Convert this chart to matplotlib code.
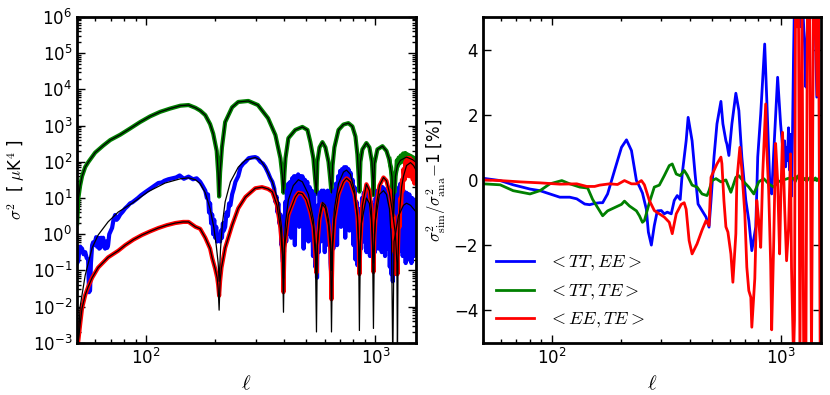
#====================================================================================
#                                  Imports
#------------------------------------------------------------------------------------
import matplotlib
matplotlib.use('Agg')
import matplotlib.pyplot as plt
from matplotlib.ticker import LogLocator, NullFormatter
import numpy as np

#====================================================================================
#                       Data
#------------------------------------------------------------------------------------
# Left panel: variance of the cross spectra (analytic = black, simulated = coloured)

# <TT,TE>  (green), simulation and analytic share the same points
green_ell = [50.0, 50.6, 51.5, 52.5, 54.2, 56.0, 59.9, 64.9, 69.7, 77, 85, 94, 104, 115, 127,
             141, 153, 164, 172, 181, 190, 196, 203, 206, 208, 210, 214, 221, 237, 252, 279,
             307, 340, 366, 385, 392, 397, 401, 405, 417, 447, 480, 505, 520, 536, 547, 553,
             558, 570, 587, 605, 624, 632, 643, 650, 662, 690, 725, 762, 793, 818, 834, 846,
             851, 860, 877, 913, 941, 965, 975, 980, 990, 1020, 1073, 1117, 1151, 1180, 1199,
             1222, 1247, 1285, 1366, 1451, 1510]
green_val = [2.0, 10, 22, 40, 72, 100, 180, 280, 400, 560, 830, 1250, 1800, 2400, 2950,
             3550, 3700, 3100, 2600, 1950, 1100, 600, 200, 50, 11, 50, 250, 1250, 3200, 4500, 4800,
             3700, 1600, 550, 125, 45, 14, 50, 125, 450, 760, 920, 760, 350, 125, 28, 13,
             100, 250, 350, 250, 100, 45, 14, 80, 250, 760, 1070, 1170, 950, 500, 160, 32,
             15, 100, 220, 330, 250, 100, 32, 12, 90, 220, 270, 200, 110, 40, 3,
             40, 80, 110, 135, 115, 95]

# noisy end of the simulated green curve
green_tail_ell = [1151, 1160, 1170, 1180, 1187, 1193, 1199, 1205, 1212, 1222, 1232, 1240, 1250,
                  1262, 1275, 1290, 1305, 1320, 1335, 1350, 1366, 1380, 1395, 1410, 1425, 1440,
                  1455, 1470, 1485, 1500, 1510]
green_tail_val = [120, 80, 70, 30, 8, 0.6, 3, 0.8, 15, 50, 60, 110, 75,
                  130, 90, 150, 100, 170, 110, 175, 120, 160, 100, 150, 95, 140,
                  85, 130, 80, 110, 90]

# <TT,EE>  (blue) analytic
blue_ana_ell = [50.3, 51.5, 54.2, 58.1, 61.7, 68.2, 75.5, 86.9, 102, 121, 141, 153, 164, 172,
                181, 190, 197, 202, 206, 208, 211, 215, 221, 233, 252, 271, 299, 315, 331, 355,
                377, 389, 395, 397, 400, 405, 417, 438, 461, 480, 510, 536, 547, 553, 558, 570,
                587, 605, 624, 637, 643, 650, 662, 690, 725, 748, 778, 810, 834, 851, 868, 913,
                941, 960, 980, 1000, 1041, 1084, 1117, 1151, 1175, 1190, 1205, 1260, 1325, 1366,
                1422, 1510]
blue_ana_val = [6e-4, 0.01, 0.074, 0.42, 0.95, 2.2, 4.1, 7.2, 15, 26, 34, 36, 32, 25,
                14, 5.0, 1.6, 0.5, 0.16, 0.05, 0.4, 2.0, 7.9, 28, 71, 112, 132, 112, 71, 28,
                7.9, 1.6, 0.16, 0.06, 0.4, 2.0, 8.9, 22, 32, 28, 12.6, 2.5, 0.5, 0.06, 0.5, 3.2,
                7.6, 6.3, 2.5, 0.63, 0.1, 0.63, 5.0, 25, 52, 59, 45, 16, 3.2, 0.16, 2.0, 10,
                7.1, 2.5, 0.16, 2.5, 12.6, 16, 12.6, 5.0, 0.63, 3e-4, 0.63, 3.2, 6.3, 7.2,
                6.3, 4.0]

# <TT,EE>  (blue) simulated, very noisy
blue_sim_ell = [50, 50.5, 51, 51.5, 52.5, 53.3, 54.2, 55, 55.8, 56.3, 56.9, 57.4, 58.1, 58.7,
                59.3, 60.5, 61.1, 61.7, 62.4, 63, 63.6, 64.3, 64.9, 65.5, 66.2, 66.9, 67.6, 68.2,
                69, 71, 72, 73.2, 74.3, 75.5, 77, 79, 81, 83, 85, 87, 89.5, 92, 95, 99, 104, 109,
                113, 117, 120, 125, 130, 135, 140, 146, 153, 160, 166, 172, 176, 181, 184, 186,
                188, 190, 192, 194, 196, 198, 200, 202, 204, 206, 208, 210, 212, 214, 216, 218,
                221, 224, 227, 230, 233, 237, 241, 245, 252, 258, 265, 271, 280, 290, 299, 306,
                315, 323, 331, 340, 348, 355,
                362, 366, 370, 374, 377, 381, 385, 389, 391, 393, 395, 397, 399, 402, 405, 408,
                411, 414, 417, 421, 425, 429, 433, 437, 441, 445, 450, 455, 460, 465, 470, 475,
                480, 486, 492, 498, 504, 510, 516, 522, 528, 534, 540, 546, 552, 556, 561, 566,
                571, 577, 583, 589, 595, 601, 607, 613, 619, 625, 631, 637, 643, 649, 655, 661,
                667, 673, 680, 687, 694, 701, 708, 715, 722, 730, 738, 746, 754, 762, 770, 778,
                786, 794, 802, 810, 818, 826, 834, 842, 850, 858, 866, 874, 882, 890, 898, 906,
                914, 922, 930, 938, 946, 954, 962, 970, 978, 986, 994, 1002, 1011, 1020, 1029,
                1038, 1047, 1056, 1065, 1074, 1083, 1092, 1101, 1110, 1119, 1128, 1137, 1146,
                1155, 1164, 1173, 1182, 1190, 1198, 1206, 1214, 1222, 1231, 1240, 1249, 1258,
                1267, 1276, 1285, 1295, 1305, 1315, 1325, 1335, 1345, 1355, 1365, 1375, 1385,
                1395, 1405, 1415, 1425, 1435, 1445, 1455, 1465, 1475, 1485, 1495, 1505, 1510]
blue_sim_val = [0.16, 0.18, 0.32, 0.45, 0.4, 0.28, 0.32, 0.22, 0.2, 0.025, 0.028, 0.16, 0.5, 0.6,
                0.5, 0.83, 0.45, 0.8, 0.4, 0.42, 0.8, 0.7, 0.8, 0.45, 0.4, 0.63, 0.42, 0.5,
                1.0, 1.5, 2.5, 3.4, 2.5, 2.8, 3.5, 4.2, 5.2, 6.0, 7.1, 7.6, 8.7, 10, 12, 14.5, 18, 22,
                26, 27, 30, 33, 35, 37, 42, 34, 39, 33, 35, 28, 22, 16, 10, 12.6,
                4.0, 7.1, 2.0, 3.5, 1.0, 2.5, 0.8, 1.6, 0.63, 0.9, 0.7, 0.63, 1.26, 0.8, 2.0, 1.26,
                1.6, 4.0, 3.2, 7.1, 6.3, 12.6, 18, 28, 40, 71, 89, 100, 126, 132, 135, 126,
                100, 89, 71, 50, 35, 28,
                18, 7.9, 11, 4.0, 7.1, 2.0, 3.5, 0.5, 2.0, 0.25, 0.17, 1.26, 0.32, 2.5, 7.9, 0.63,
                16, 1.0, 25, 2.0, 28, 0.8, 35, 4.0, 40, 0.5, 40, 5.0, 45, 1.6, 40, 7.9,
                40, 0.4, 32, 3.2, 28, 0.63, 20, 2.0, 16, 0.25, 12.6, 0.126, 4.0, 0.063, 6.3, 0.32,
                14, 0.63, 16, 1.0, 16, 0.32, 14, 1.6, 16, 0.5, 12.6, 0.16, 0.063, 6.3, 0.4, 16,
                1.26, 25, 0.5, 40, 2.5, 56, 1.6, 63, 4.0, 71, 0.8, 71, 3.2, 63, 1.26, 50,
                4.0, 32, 0.5, 20, 0.2, 7.9, 0.14, 2.5, 0.126, 5.0, 0.4, 10, 0.63, 14, 1.0, 16,
                0.32, 14, 1.26, 11, 0.25, 7.9, 0.63, 5.0, 0.126, 6.3, 0.32, 10, 1.0, 16, 0.4,
                18, 1.6, 20, 0.32, 20, 1.26, 18, 0.25, 16, 2.0, 12.6, 0.4, 7.9,
                0.126, 5.0, 0.079, 3.2, 0.05, 1.6, 0.1, 4.0, 0.25, 7.9, 0.63, 12.6, 0.32,
                20, 0.5, 25, 1.0, 20, 0.25, 16, 0.63, 12.6, 0.16, 14, 0.5, 11,
                0.2, 12.6, 0.63, 10, 0.16, 10, 0.4, 7.9, 0.25, 8.9, 0.5, 6.3, 1.6]

# <EE,TE>  (red) analytic
red_ell = [50.0, 50.5, 51.5, 52.5, 54.2, 55.8, 58.1, 61.7, 68.2, 75.5, 81, 88, 95.8, 104, 112.8,
           123, 134, 145, 153, 164, 172, 181, 190, 194, 200, 204, 206, 208, 210, 213, 221, 237,
           252, 271, 299, 320, 340, 355, 372, 385, 393, 397, 401, 417, 447, 461, 480, 500, 520,
           536, 547, 553, 558, 570, 587, 605, 624, 637, 643, 650, 662, 690, 725, 748, 778, 810,
           834, 844, 851, 860, 877, 913, 941, 960, 970, 980, 990, 1010, 1041, 1084, 1117, 1151,
           1187, 1222, 1240, 1247, 1255, 1270, 1300, 1325, 1366, 1422, 1466, 1510]
red_ana = [5e-4, 1.05e-3, 3.2e-3, 9.1e-3, 0.021, 0.035, 0.063, 0.12, 0.23, 0.35, 0.5, 0.71, 0.95,
           1.2, 1.48, 1.78, 2.04, 2.19, 2.19, 1.6, 1.41, 0.8, 0.4, 0.22, 0.11, 0.063, 0.032,
           0.008, 0.05, 0.12, 0.42, 1.78, 5.2, 10.7, 18.6, 20, 17.8, 14.8, 6.3, 1.48, 0.27,
           0.007, 0.42, 3.4, 10.7, 14, 13.2, 8.9, 4.0, 1.6, 0.25, 0.002, 0.5, 2.5, 6.8, 5.2,
           1.78, 0.32, 0.002, 0.4, 2.5, 12.6, 28, 35, 28, 12.6, 3.2, 0.63, 0.0022, 0.63, 6.3,
           24, 16, 5.0, 1.0, 0.0025, 1.0, 6.3, 22, 37, 30, 14, 4.0, 1.0, 0.16, 3e-4, 0.25, 3.2,
           20, 40, 79, 95, 79, 56]

# <EE,TE>  (red) simulated
red_sim_ell = [50.0, 50.5, 51.5, 52.5, 54.2, 55.8, 58.1, 61.7, 68.2, 75.5, 81, 88, 95.8, 104,
               112.8, 123, 134, 145, 153, 164, 172, 181, 190, 194, 200, 204, 206, 208, 210, 213,
               221, 237, 252, 271, 299, 320, 340, 355, 372, 385, 393, 397, 401, 417, 447, 461,
               480, 500, 520, 536, 547, 553, 558, 570, 587, 605, 624, 637, 643, 650, 662, 690,
               725, 748, 778, 810, 834, 844, 851, 860, 877, 913, 941, 960, 970, 980, 990, 1010,
               1041, 1084, 1117, 1151, 1160, 1170, 1180, 1190, 1200, 1210, 1220, 1230, 1240,
               1247, 1255, 1265, 1275, 1285, 1295, 1305, 1315, 1325, 1340, 1350, 1360, 1370,
               1380, 1392, 1405, 1418, 1430, 1442, 1455, 1468, 1480, 1495, 1510]
red_sim = [5e-4, 1.05e-3, 3.2e-3, 9.1e-3, 0.021, 0.035, 0.063, 0.12, 0.23, 0.35, 0.5, 0.71, 0.95,
           1.2, 1.48, 1.78, 2.04, 2.19, 2.19, 1.6, 1.41, 0.8, 0.4, 0.22, 0.11, 0.063, 0.04,
           0.02, 0.05, 0.12, 0.42, 1.78, 5.2, 10.7, 18.6, 20, 17.8, 14.8, 6.3, 1.48, 0.27,
           0.025, 0.42, 3.4, 10.7, 14, 13.2, 8.9, 4.0, 1.6, 0.25, 0.085, 0.5, 2.5, 6.8, 5.2,
           1.78, 0.32, 0.016, 0.4, 2.5, 12.6, 28, 35, 28, 12.6, 3.2, 0.63, 0.079, 0.63, 6.3,
           24, 16, 5.0, 1.0, 0.09, 1.0, 6.3, 22, 37, 30, 14, 16, 4.0, 10, 1.6, 3.2, 0.32,
           0.63, 0.079, 0.25, 0.079, 0.5, 3.2, 1.6, 10, 6.3, 32, 16, 63, 32, 100, 40, 126,
           50, 126, 40, 126, 40, 112, 32, 100, 25, 79, 32]

#------------------------------------------------------------------------------------
# Right panel: sigma^2_sim / sigma^2_ana - 1  [%]
rb_ell = [50.1, 59.4, 67.7, 80.2, 88.7, 98, 108.3, 119.7, 128.4, 139.2, 146.3, 153.8, 161.7,
          166.7, 175.2, 187.9, 201.5, 211.9, 222.8, 234.2, 241.4, 248.8, 258.8, 264.1, 272.2,
          280.4, 289, 300.9, 310, 319.4, 332.6, 342.7, 353.2, 363.9, 371.3, 386.4, 394.2, 410.2,
          422.7, 435.6, 453.4, 472, 486.4, 496.3, 511.4, 526.9, 548.3, 559.4, 576.6, 582.4,
          594.2, 612.4, 637.3, 656.9, 677, 704.6, 726.2, 748.4, 779.1, 794.3, 818.5, 852, 869.3,
          895.9, 914.1, 932.4, 970.5, 1000, 1030, 1041, 1052, 1062, 1072, 1083, 1094, 1105,
          1116, 1128, 1139, 1150, 1174, 1197, 1222, 1246, 1272, 1290, 1305, 1324, 1370, 1392,
          1410, 1440, 1470, 1500]
rb_val = [0.05, -0.02, -0.15, -0.28, -0.33, -0.43, -0.53, -0.53, -0.58, -0.74, -0.76, -0.72, -0.7,
          -0.7, -0.43, 0.29, 1.0, 1.23, 0.9, -0.02, -0.2, -0.4, -0.9, -1.6, -2.0,
          -1.4, -0.95, -0.94, -1.04, -0.99, -1.04, -0.63, -0.48, -0.6, 0.18, 1.2, 1.92, 1.2,
          0.18, -0.74, -0.94, -1.14, -1.45, -0.63, 0.7, 1.72, 2.41, 1.72, 1.2, 1.1,
          0.75, 1.72, 2.66, 2.13, 0.7, -0.63, -1.25, -2.17, -1.44, 0.7, 2.02, 4.17, 2.54,
          -0.02, -0.43, 0.8, 3.15, 1.72, 0.7, 1.2, 0.4, 1.0, 0.6, 1.6, 0.3, 1.4,
          -0.5, 1.5, 3.8, 5.5, 5.5, 5.3, 4.7, 5.5, 4.2, 2.85, 4.3, 5.5, 5.5, 4.85,
          5.5, 2.54, 5.5, 5.5]

rg_ell = [50.1, 59.4, 67.7, 80.2, 88.7, 98, 110.5, 119.7, 132.4, 143.4, 150.7, 156.9, 166.7,
          175.2, 187.9, 201.5, 207.6, 218.3, 234.2, 241.4, 248.8, 253.8, 266.7, 280.4, 294.9,
          310, 326, 335.9, 349.7, 363.9, 378.8, 390.3, 410.2, 431.3, 453.4, 476.7, 486.4, 501.2,
          521.8, 548.3, 576.6, 606.2, 637.3, 656.9, 690.7, 726.2, 763.6, 802.3, 843.6, 887,
          932.4, 980.2, 1030, 1083, 1139, 1160, 1180, 1197, 1210, 1230, 1259, 1280, 1300, 1324,
          1350, 1370, 1392, 1420, 1440, 1463, 1500]
rg_val = [-0.12, -0.15, -0.33, -0.43, -0.33, -0.12, -0.02, -0.12, -0.22, -0.25, -0.6, -0.8, -1.1,
          -0.95, -0.85, -0.75, -0.65, -0.8, -0.95, -1.1, -1.3, -1.25, -0.7, -0.22, -0.16,
          0.13, 0.44, 0.49, 0.18, 0.13, 0.29, 0.15, -0.16, -0.22, -0.43, -0.48, -0.33, -0.02,
          0.04, -0.06, 0.0, -0.38, 0.08, 0.13, -0.06, -0.22, -0.43, -0.06, 0.04, -0.12,
          -0.22, -0.05, 0.0, 0.05, 0.05, -0.05, 0.1, 0.13, -0.02, 0.12, 0.0, 0.05, -0.04, 0.03,
          0.08, -0.03, 0.0, 0.06, -0.02, 0.04, 0.0]

rr_ell = [50.1, 59.4, 72.6, 88.7, 108.3, 128.4, 142, 153.8, 161.7, 178.7, 193.6, 207.6, 222.8,
          234.2, 246.3, 253.8, 266.7, 280.4, 294.9, 310, 326, 335.9, 349.7, 367.6, 378.8, 386.4,
          398.1, 410.2, 431.3, 453.4, 472, 486.4, 496.3, 511.4, 526.9, 548.3, 553.8, 565.1,
          576.6, 588.3, 606.2, 618.5, 637.3, 643.7, 663.5, 677, 697.6, 711.7, 726.2, 740.9,
          748.4, 771.3, 786.9, 802.3, 818.5, 835.2, 860.6, 869.3, 887, 904.9, 914.1, 932.4,
          951.2, 970.5, 990.1, 1000, 1020, 1041, 1062, 1083, 1105, 1116, 1139, 1150, 1162,
          1180, 1197, 1215, 1240, 1262, 1290, 1310, 1340, 1365, 1392, 1420, 1445, 1465, 1490,
          1500]
rr_val = [0.0, -0.02, -0.06, -0.09, -0.13, -0.12, -0.2, -0.2, -0.16, -0.12, -0.14, -0.02, -0.12,
          -0.12, -0.02, -0.15, -0.63, -0.94, -1.04, -1.14, -1.3, -1.65, -1.04, -0.75, -0.7, -0.9,
          -1.86, -2.27, -1.96, -1.54, -1.25, -1.4, 0.08, 0.29, 0.49, 0.7, 0.5, -0.63,
          -1.44, -1.6, -2.27, -3.14, -1.65, -0.02, 1.0, 0.3, -1.04, -2.68, -3.4, -3.6,
          -4.52, -3.03, -0.63, -1.25, -2.07, 0.18, 2.33, 1.0, -0.33, -2.58, -4.6, -2.0,
          1.12, -0.02, -2.27, -0.8, 1.46, -0.8, -2.48, -1.5, 0.8, -2.68, -5.5, -4.3, 5.5,
          4.7, 5.5, -5.5, 5.5, -5.5, -5.5, 5.5, 5.5, -5.5, 5.5, 5.5, 2.6, 5.5, -5.5,
          -5.5]

legend_labels = [r'$<TT,EE>$', r'$<TT,TE>$', r'$<EE,TE>$']

#====================================================================================
#                                  Figure
#------------------------------------------------------------------------------------
plt.rcParams['mathtext.fontset'] = 'cm'
plt.rcParams['font.size'] = 12

fig = plt.figure(figsize=(8.3, 3.95), dpi=100)
ax1 = fig.add_axes([0.093, 0.132, 0.408, 0.825])
ax2 = fig.add_axes([0.582, 0.132, 0.407, 0.825])

# simulated (thick, coloured)
ax1.plot(green_ell, green_val, color='g', lw=3)
ax1.plot(green_tail_ell, green_tail_val, color='g', lw=3)
ax1.plot(blue_sim_ell, blue_sim_val, color='b', lw=3)
ax1.plot(red_sim_ell, red_sim, color='r', lw=3)
# analytic (thin, black)
ax1.plot(blue_ana_ell, blue_ana_val, color='k', lw=0.9)
ax1.plot(green_ell, green_val, color='k', lw=0.9)
ax1.plot(red_ell, red_ana, color='k', lw=0.9)

ax1.set_xscale('log')
ax1.set_yscale('log')
ax1.set_xlim(50, 1500)
ax1.set_ylim(1e-3, 1e6)
ax1.yaxis.set_major_locator(LogLocator(base=10, numticks=20))
ax1.yaxis.set_minor_locator(LogLocator(base=10, subs=np.arange(2, 10), numticks=20))
ax1.yaxis.set_minor_formatter(NullFormatter())
ax1.set_xlabel(r'$\ell$', fontsize=15)
ax1.set_ylabel(r'$\sigma^2$  [ $\mu$K$^4$ ]', fontsize=12)

# right panel
ax2.plot(rb_ell, rb_val, color='b', lw=2, label=legend_labels[0])
ax2.plot(rg_ell, rg_val, color='g', lw=2, label=legend_labels[1])
ax2.plot(rr_ell, rr_val, color='r', lw=2, label=legend_labels[2])
ax2.set_xscale('log')
ax2.set_xlim(50, 1500)
ax2.set_ylim(-5, 5)
ax2.set_yticks([-4, -2, 0, 2, 4])
ax2.set_xlabel(r'$\ell$', fontsize=15)
ax2.set_ylabel(r'$\sigma^2_{\rm sim}/\sigma^2_{\rm ana}$$-$1 [%]', fontsize=12)
ax2.legend(loc='lower left', frameon=False, fontsize=13, handlelength=2.1, borderaxespad=0.3)

for ax in (ax1, ax2):
    ax.tick_params(which='both', direction='in', top=True, right=True, labelsize=12)
    ax.tick_params(which='major', length=6, width=1)
    ax.tick_params(which='minor', length=3, width=1)
    for sp in ax.spines.values():
        sp.set_linewidth(2)

fig.savefig('out.png', dpi=100)
plt.close('all')
